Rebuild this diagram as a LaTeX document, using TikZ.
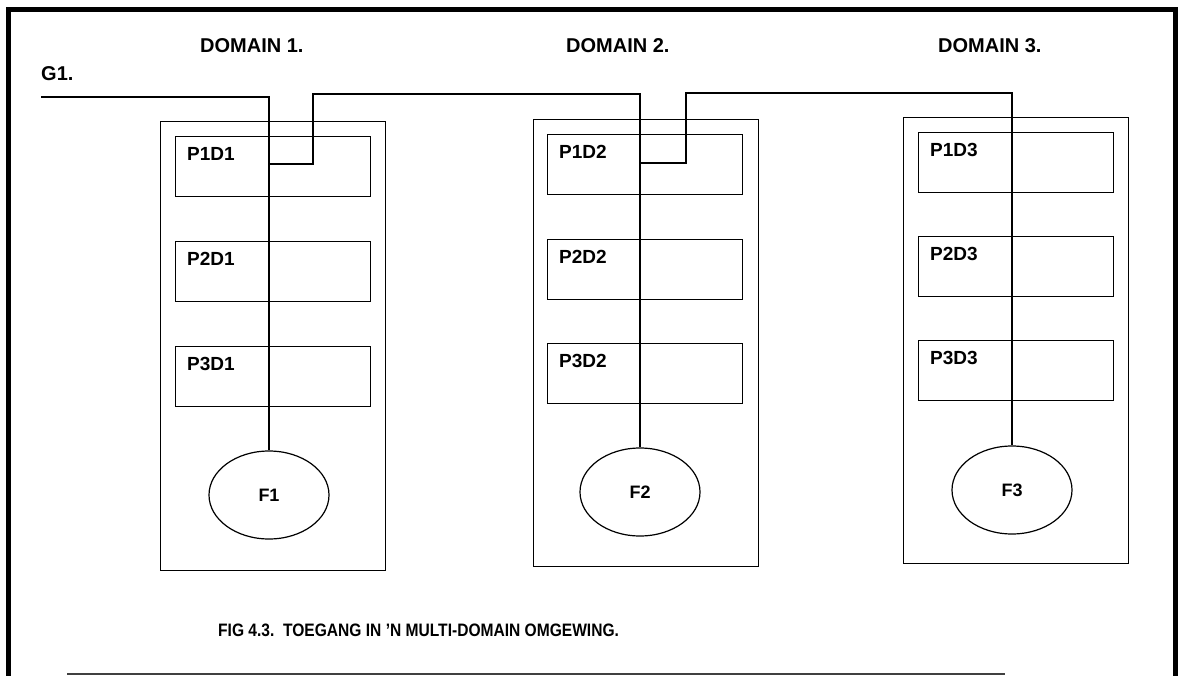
\documentclass[tikz,border=0pt]{standalone}
\usepackage{fontspec}
\setmainfont{Liberation Sans}
\usetikzlibrary{shapes.geometric,positioning}

\begin{document}
\begin{tikzpicture}[x=1pt,y=-1pt,
dom/.style={draw,line width=1.3pt,minimum width=225pt,anchor=north west,inner sep=0pt},
proc/.style={draw,line width=1.3pt,minimum width=195pt,minimum height=60pt,anchor=north west,inner sep=0pt},
plbl/.style={anchor=north west,xshift=12pt,yshift=-11pt,inner sep=0pt,font=\fontsize{19}{22}\selectfont\bfseries},
file/.style={draw,ellipse,line width=1.2pt,minimum width=120pt,minimum height=88pt,inner sep=0pt,font=\fontsize{18}{20}\selectfont\bfseries},
head/.style={anchor=north west,inner sep=0pt,font=\fontsize{20}{24}\selectfont\bfseries},
link/.style={line width=1.2pt}]
\useasboundingbox (0,0) rectangle (1186,676);
\draw[line width=5pt] (8,676) -- (8,10) -- (1175,10) -- (1175,676);
\draw[line width=1.5pt,black!75] (67,674) -- (1005,674);

\node[head] (h1) at (200,38) {DOMAIN 1.};
\node[head] (h2) at (566,38) {DOMAIN 2.};
\node[head] (h3) at (938,38) {DOMAIN 3.};
\node[head] (g1lbl) at (41,66) {G1.};

\node[dom,minimum height=449pt] (d1) at (160,121) {};
\node[dom,minimum height=447pt] (d2) at (533,119) {};
\node[dom,minimum height=446pt] (d3) at (903,117) {};

\node[proc,label={[plbl]north west:P1D1}] (p1d1) at (175,136) {};
\node[proc,label={[plbl]north west:P2D1}] (p2d1) at (175,241) {};
\node[proc,label={[plbl]north west:P3D1}] (p3d1) at (175,346) {};
\node[proc,label={[plbl]north west:P1D2}] (p1d2) at (547,134) {};
\node[proc,label={[plbl]north west:P2D2}] (p2d2) at (547,239) {};
\node[proc,label={[plbl]north west:P3D2}] (p3d2) at (547,343) {};
\node[proc,label={[plbl]north west:P1D3}] (p1d3) at (918,132) {};
\node[proc,label={[plbl]north west:P2D3}] (p2d3) at (918,236) {};
\node[proc,label={[plbl]north west:P3D3}] (p3d3) at (918,340) {};

\node[file] (f1) at (269,495) {F1};
\node[file] (f2) at (640,492) {F2};
\node[file] (f3) at (1012,490) {F3};

\coordinate (g1) at (41,97);
\coordinate (k1) at (313,164);
\coordinate (t1) at (313,94);
\coordinate (k2) at (686,163);
\coordinate (t2) at (686,93);

\draw[link] (g1) -| (f1.north);
\draw[link] (f1.north |- k1) -| (t1) -| (f2.north);
\draw[link] (f2.north |- k2) -| (t2) -| (f3.north);

\node[anchor=north west,inner sep=0pt,font=\fontsize{18}{21}\selectfont\bfseries] (cap) at (218,624) {\scalebox{0.865}[1]{FIG 4.3.\ \ TOEGANG IN ’N MULTI-DOMAIN OMGEWING.}};
\end{tikzpicture}
\end{document}
